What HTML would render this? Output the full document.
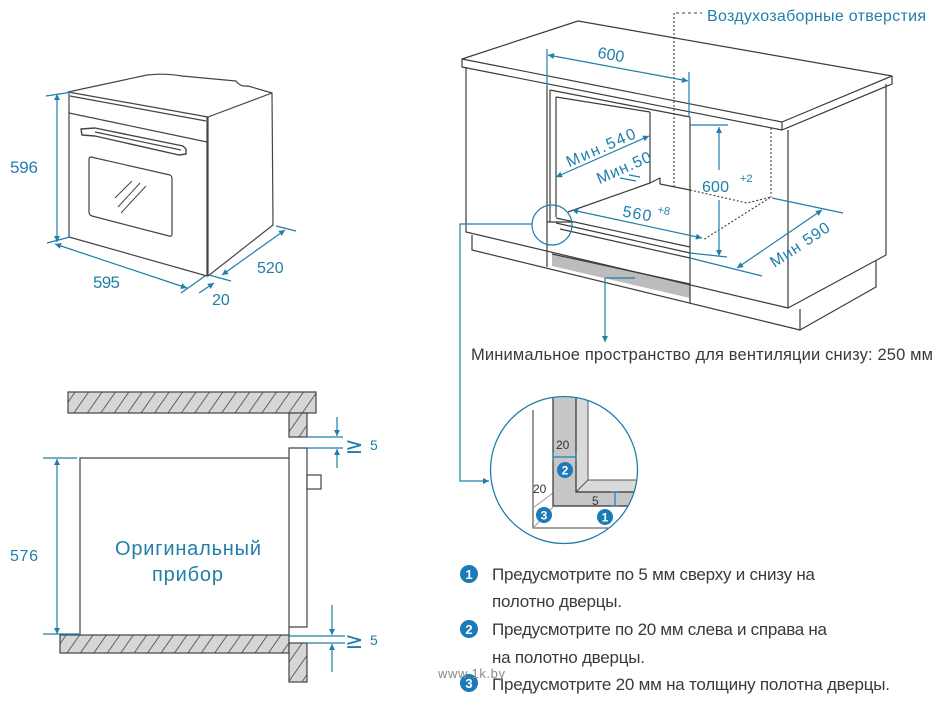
<!DOCTYPE html>
<html><head><meta charset="utf-8"><style>
html,body{margin:0;padding:0;background:#fff;}
svg{display:block;}
text{font-family:"Liberation Sans","DejaVu Sans",sans-serif;}
</style></head><body>
<svg width="945" height="702" viewBox="0 0 945 702" xmlns="http://www.w3.org/2000/svg">
<defs>
<marker id="ar" viewBox="0 0 10 10" refX="10" refY="5" markerWidth="9" markerHeight="6" markerUnits="userSpaceOnUse" orient="auto-start-reverse"><path d="M0,0 L10,5 L0,10 z" fill="#1f7faa"/></marker>
<pattern id="hatch" width="11" height="40" patternUnits="userSpaceOnUse" patternTransform="rotate(35)"><rect width="11" height="40" fill="#d6d6d6"/><line x1="0" y1="0" x2="0" y2="40" stroke="#444" stroke-width="1.6"/></pattern>
<clipPath id="cc"><circle cx="564" cy="470" r="73"/></clipPath>
</defs>
<rect width="945" height="702" fill="#fff"/>

<!-- ===== OVEN (top-left) ===== -->
<g fill="none" stroke="#444" stroke-width="1.2" stroke-linejoin="round">
<path d="M68,92 L147,75 Q165,73 182,76 L236,81 Q240,87 248,86 L272,93 L208,117 Z" fill="#fff"/>
<path d="M70,96 L206,121"/>
<path d="M69,92 L69,237 L207,276 L207,117"/>
<path d="M69,113 L207,142"/>
<path d="M208,117 L208,276 L273,225 L272,93"/>
<path d="M81,129 L95,128 L183,146 L186,149 L186,154 L179,155 L95,136 L82,135 Z" fill="#fff" stroke-width="1.4"/>
<path d="M95,132 L181,150"/>
<path d="M91,157 L170,175 Q172,176 172,179 L172,234 Q172,237 169,236 L92,216 Q89,215 89,212 L89,160 Q89,157 91,157 Z"/>
<path d="M115,198 L132,181 M118,207 L140,183 M121,213 L146,186" stroke-width="1"/>
</g>
<g stroke="#1f7faa" stroke-width="1.2" fill="none">
<line x1="57" y1="94" x2="57" y2="242" marker-start="url(#ar)" marker-end="url(#ar)"/>
<line x1="46" y1="96" x2="72" y2="92"/>
<line x1="47" y1="243" x2="70" y2="237"/>
<line x1="55" y1="244" x2="187" y2="288" marker-start="url(#ar)" marker-end="url(#ar)"/>
<line x1="181" y1="293" x2="205" y2="276"/>
<line x1="222" y1="275" x2="285" y2="230" marker-start="url(#ar)" marker-end="url(#ar)"/>
<line x1="276" y1="226" x2="296" y2="231"/>
<line x1="209" y1="275" x2="231" y2="281"/>
<line x1="199" y1="293" x2="214" y2="283" marker-end="url(#ar)"/>
</g>
<g fill="#1f7faa" font-size="17">
<text x="10" y="173" textLength="28">596</text>
<text x="93" y="288" textLength="27">595</text>
<text x="257" y="273" font-size="16">520</text>
<text x="212" y="305" font-size="16">20</text>
</g>

<!-- ===== SECTION (bottom-left) ===== -->
<g stroke="#444" stroke-width="1.2">
<rect x="68" y="392" width="248" height="21" fill="url(#hatch)"/>
<rect x="289" y="413" width="18" height="24" fill="url(#hatch)"/>
<path d="M289,636 L289,448 L307,448 L307,627 L289,627" fill="#fff"/>
<rect x="307" y="475" width="14" height="14" fill="#fff"/>
<path d="M80,636 L80,458 L289,458" fill="none"/>
<rect x="60" y="635" width="229" height="18" fill="url(#hatch)"/>
<rect x="289" y="643" width="18" height="39" fill="url(#hatch)"/>
</g>
<g stroke="#1f7faa" stroke-width="1.2" fill="none">
<line x1="57" y1="459" x2="57" y2="634" marker-start="url(#ar)" marker-end="url(#ar)"/>
<line x1="43" y1="458" x2="77" y2="458"/>
<line x1="43" y1="634" x2="80" y2="634"/>
<line x1="307" y1="437" x2="343" y2="437"/>
<line x1="307" y1="448" x2="343" y2="448"/>
<line x1="337" y1="417" x2="337" y2="436" marker-end="url(#ar)"/>
<line x1="337" y1="468" x2="337" y2="449" marker-end="url(#ar)"/>
<line x1="289" y1="636" x2="345" y2="636"/>
<line x1="307" y1="643" x2="345" y2="643"/>
<line x1="332" y1="605" x2="332" y2="635" marker-end="url(#ar)"/>
<line x1="332" y1="672" x2="332" y2="644" marker-end="url(#ar)"/>
</g>
<g fill="#1f7faa">
<text x="10" y="561" font-size="16" textLength="28">576</text>
<text x="345" y="453" font-size="22" style="font-family:'DejaVu Sans',sans-serif">≥</text>
<text x="370" y="450" font-size="14">5</text>
<text x="345" y="648" font-size="22" style="font-family:'DejaVu Sans',sans-serif">≥</text>
<text x="370" y="645" font-size="14">5</text>
<text x="115" y="555" font-size="20" textLength="146">Оригинальный</text>
<text x="152" y="581" font-size="20" textLength="71">прибор</text>
</g>

<!-- ===== CABINET (top-right) ===== -->
<polygon points="552,254 690,284 690,298 552,266" fill="#bcbcbc"/>
<g fill="none" stroke="#3c3c3c" stroke-width="1.2" stroke-linejoin="round">
<path d="M462,59 L578,21 L892,76 L782,122 Z" fill="#fff"/>
<path d="M462,59 L462,67 L782,130 L782,122 M782,130 L892,84 L892,76"/>
<path d="M466,67 L466,232 L788,308"/>
<path d="M472,235 L472,250 L800,330 L800,309 M800,330 L876,287 L876,260"/>
<path d="M788,130 L788,308 L886,255 L886,84"/>
<path d="M547,86 L547,267 M690,117 L690,303"/>
<path d="M550,90 L550,222 M556,97 L556,217"/>
<path d="M550,90 L690,117 M556,97 L650,112 M650,112 L650,183"/>
<path d="M568,212 L650,183 L660,178 L660,184 L690,190"/>
<path d="M556,218 L690,247 M556,223 L690,253 M560,229 L690,258"/>
<path d="M547,222 L573,222"/>
<path d="M552,254 L690,284"/>
</g>
<g fill="none" stroke="#3c3c3c" stroke-width="1.1" stroke-dasharray="2,2">
<path d="M674,13 L674,188"/>
<path d="M771,128 L771,197"/>
<path d="M690,190 L747,203 L771,197 L703,240"/>
</g>
<path d="M676,13 L702,13" stroke="#3c3c3c" stroke-width="1.1" stroke-dasharray="3,3"/>
<g stroke="#1f7faa" stroke-width="1.2" fill="none">
<path d="M547,49 L547,86 M689,72 L689,117"/>
<line x1="548" y1="55" x2="688" y2="81" marker-start="url(#ar)" marker-end="url(#ar)"/>
<line x1="649" y1="136" x2="556" y2="177" marker-start="url(#ar)" marker-end="url(#ar)"/>
<path d="M620,178 L636,181 M629,175 L640,177"/>
<line x1="690" y1="125" x2="728" y2="125"/>
<line x1="719" y1="170" x2="719" y2="127" marker-end="url(#ar)"/>
<line x1="719" y1="200" x2="719" y2="256" marker-end="url(#ar)"/>
<line x1="690" y1="253" x2="727" y2="257"/>
<line x1="572" y1="210" x2="702" y2="238" marker-start="url(#ar)" marker-end="url(#ar)"/>
<line x1="737" y1="268" x2="822" y2="210" marker-start="url(#ar)" marker-end="url(#ar)"/>
<line x1="772" y1="198" x2="843" y2="213"/>
<line x1="690" y1="258" x2="762" y2="276"/>
<line x1="605" y1="278" x2="635" y2="278"/>
<line x1="605" y1="278" x2="605" y2="342" marker-end="url(#ar)"/>
<circle cx="552" cy="225" r="20"/>
<path d="M532,224 L460,224 L460,481 L489,481" marker-end="url(#ar)"/>
</g>
<g fill="#1f7faa">
<text x="707" y="21" font-size="16" textLength="219">Воздухозаборные отверстия</text>
<text x="611" y="60" font-size="16" text-anchor="middle" transform="rotate(10 611 55)">600</text>
<text x="601" y="153" font-size="16" text-anchor="middle" textLength="74" transform="rotate(-23.8 601 148)">Мин.540</text>
<text x="624" y="173" font-size="16" text-anchor="middle" textLength="58" transform="rotate(-23.8 624 168)">Мин.50</text>
<text x="702" y="192" font-size="16" textLength="27">600</text>
<text x="740" y="182" font-size="11">+2</text>
<text x="637" y="219" font-size="16" text-anchor="middle" textLength="29" transform="rotate(10 637 214)">560</text>
<text x="657" y="213" font-size="11" transform="rotate(10 657 213)">+8</text>
<text x="800" y="250" font-size="16" text-anchor="middle" textLength="68" transform="rotate(-33.7 800 245)">Мин 590</text>
</g>
<text x="471" y="360" font-size="16.5" fill="#3a3a3a" textLength="462">Минимальное пространство для вентиляции снизу: 250 мм</text>

<!-- ===== DETAIL CIRCLE ===== -->
<g clip-path="url(#cc)">
<path d="M533,410 L533,528 L640,528" fill="none" stroke="#444" stroke-width="1.1"/>
<path d="M533,508 L553,493 M533,528 L553,507" stroke="#999" stroke-width="1"/>
<path d="M576,380 L588,380 L588,480 L650,480 L650,492 L576,492 Z" fill="#dadada" stroke="#555" stroke-width="1"/>
<path d="M576,492 L588,480" stroke="#555" stroke-width="1"/>
<path d="M553,380 L553,506 L650,506 L650,492 L576,492 L576,380 Z" fill="#c6c6c6" stroke="#333" stroke-width="1.2"/>
</g>
<circle cx="564" cy="470" r="73.5" fill="none" stroke="#1f7faa" stroke-width="1.3"/>
<g stroke="#1f7faa" stroke-width="1.2">
<path d="M553,457 L576,457 M553,453 L553,461 M576,453 L576,461"/>
<path d="M615,492 L615,506 M611,492 L619,492 M611,506 L619,506"/>
</g>
<g fill="#333" font-size="12">
<text x="556" y="449">20</text>
<text x="533" y="493">20</text>
<text x="592" y="505">5</text>
</g>
<g font-weight="bold" font-size="12" text-anchor="middle" fill="#fff">
<circle cx="565" cy="470" r="8" fill="#1b7bb8"/><text x="565" y="474.5">2</text>
<circle cx="544" cy="515" r="8" fill="#1b7bb8"/><text x="544" y="519.5">3</text>
<circle cx="605" cy="517" r="8" fill="#1b7bb8"/><text x="605" y="521.5">1</text>
</g>

<!-- ===== NOTES ===== -->
<g font-weight="bold" font-size="13" text-anchor="middle" fill="#fff">
<circle cx="469" cy="574" r="9" fill="#1b7bb8"/><text x="469" y="579">1</text>
<circle cx="469" cy="629" r="9" fill="#1b7bb8"/><text x="469" y="634">2</text>
<circle cx="469" cy="683" r="9" fill="#1b7bb8"/><text x="469" y="688">3</text>
</g>
<g fill="#3a3a3a" font-size="17">
<text x="492" y="580" textLength="323">Предусмотрите по 5 мм сверху и снизу на</text>
<text x="492" y="607" textLength="130">полотно дверцы.</text>
<text x="492" y="635" textLength="335">Предусмотрите по 20 мм слева и справа на</text>
<text x="492" y="663" textLength="153">на полотно дверцы.</text>
<text x="492" y="690" textLength="398">Предусмотрите 20 мм на толщину полотна дверцы.</text>
</g>
<text x="438" y="678" font-size="13" fill="#8a8a8a" textLength="67">www.1k.by</text>
</svg>
</body></html>
